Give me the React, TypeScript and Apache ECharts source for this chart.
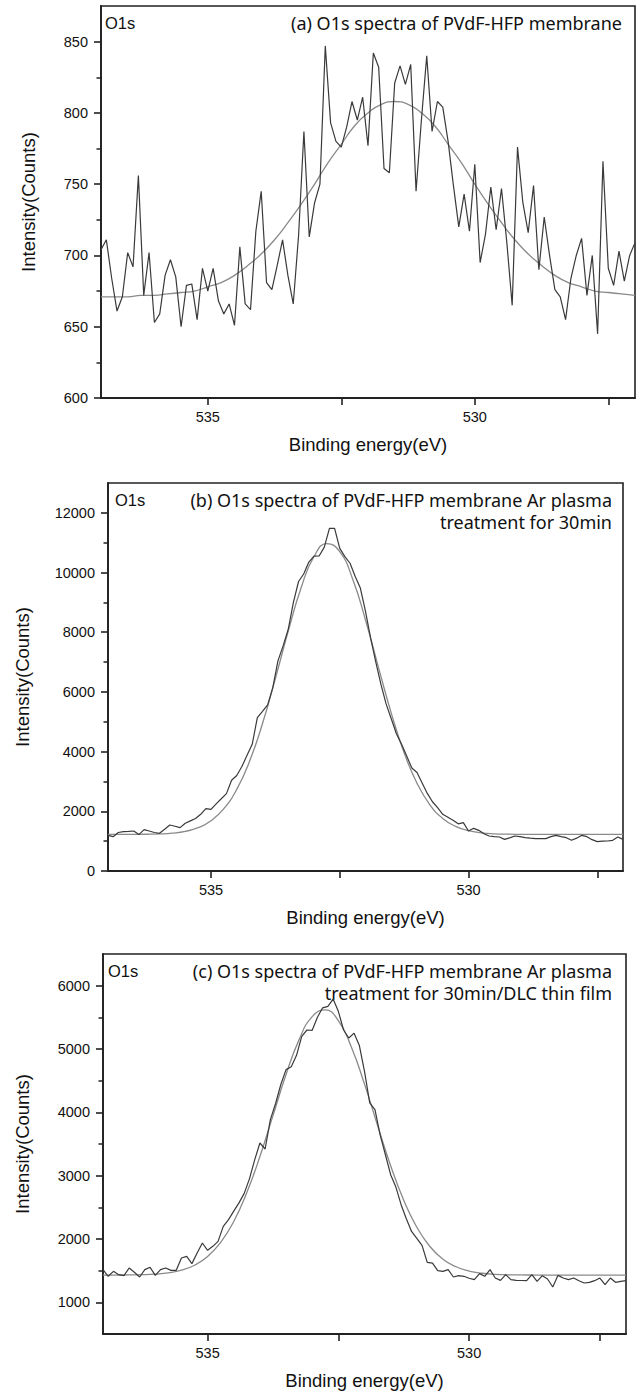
import React, { useEffect, useRef } from "react";
import * as echarts from "echarts";

// Binding energy grid of the measured spectra (eV)
const energy = [
  537.0, 536.9, 536.8, 536.7, 536.6, 536.5, 536.4, 536.3, 536.2, 536.1,
  536.0, 535.9, 535.8, 535.7, 535.6, 535.5, 535.4, 535.3, 535.2, 535.1,
  535.0, 534.9, 534.8, 534.7, 534.6, 534.5, 534.4, 534.3, 534.2, 534.1,
  534.0, 533.9, 533.8, 533.7, 533.6, 533.5, 533.4, 533.3, 533.2, 533.1,
  533.0, 532.9, 532.8, 532.7, 532.6, 532.5, 532.4, 532.3, 532.2, 532.1,
  532.0, 531.9, 531.8, 531.7, 531.6, 531.5, 531.4, 531.3, 531.2, 531.1,
  531.0, 530.9, 530.8, 530.7, 530.6, 530.5, 530.4, 530.3, 530.2, 530.1,
  530.0, 529.9, 529.8, 529.7, 529.6, 529.5, 529.4, 529.3, 529.2, 529.1,
  529.0, 528.9, 528.8, 528.7, 528.6, 528.5, 528.4, 528.3, 528.2, 528.1,
  528.0, 527.9, 527.8, 527.7, 527.6, 527.5, 527.4, 527.3, 527.2, 527.1,
  527.0,
];

// Energies at which the fitted curves were read (eV)
const fitEnergy = [
  537.0, 536.75, 536.5, 536.25, 536.0, 535.75, 535.5, 535.25, 535.0, 534.75,
  534.5, 534.25, 534.0, 533.75, 533.5, 533.25, 533.0, 532.75, 532.5, 532.25,
  532.0, 531.75, 531.5, 531.25, 531.0, 530.75, 530.5, 530.25, 530.0, 529.75,
  529.5, 529.25, 529.0, 528.75, 528.5, 528.25, 528.0, 527.75, 527.5, 527.25,
  527.0,
];

// (a) PVdF-HFP membrane
const intensityA = [
  704, 711, 684, 661, 671, 702, 692, 756, 672, 702,
  653, 659, 686, 697, 685, 650, 679, 680, 655, 691,
  675, 691, 668, 659, 666, 651, 706, 666, 662, 717,
  745, 681, 676, 693, 711, 686, 666, 714, 787, 713,
  737, 750, 847, 793, 780, 776, 790, 808, 795, 811,
  777, 842, 832, 761, 758, 821, 833, 820, 834, 745,
  795, 840, 787, 808, 804, 780, 749, 720, 743, 717,
  764, 695, 715, 748, 718, 747, 709, 665, 776, 737,
  716, 749, 690, 727, 700, 676, 671, 655, 684, 700,
  712, 672, 700, 645, 766, 691, 679, 703, 682, 700,
  709,
];
const fitA = [
  671, 671, 671, 672, 672, 673, 674, 675, 678, 681,
  686, 693, 701, 711, 723, 736, 750, 765, 778, 791,
  800, 806, 808, 806, 800, 791, 778, 765, 750, 736,
  723, 711, 701, 693, 686, 681, 678, 675, 674, 673,
  672,
];

// (b) Ar plasma treatment 30 min
const intensityB = [
  1196, 1150, 1290, 1320, 1330, 1341, 1220, 1385, 1340, 1290,
  1262, 1400, 1540, 1500, 1453, 1600, 1680, 1760, 1900, 2089,
  2067, 2250, 2420, 2592, 3039, 3200, 3500, 3880, 4246, 5140,
  5350, 5564, 6145, 7039, 7542, 8100, 9000, 9700, 9950, 10350,
  10550, 10556, 10850, 11478, 11478, 10811, 10533, 10311, 9867, 9478,
  8700, 7800, 7000, 6250, 5598, 5100, 4600, 4250, 3850, 3450,
  3300, 2950, 2600, 2320, 2120, 1899, 1800, 1700, 1580, 1620,
  1341, 1430, 1363, 1250, 1173, 1150, 1140, 1061, 1110, 1173,
  1150, 1117, 1100, 1084, 1084, 1084, 1150, 1196, 1150, 1117,
  1028, 1100, 1196, 1150, 1050, 983, 1000, 1006, 1028, 1140,
  1061,
];
const fitB = [
  1225, 1226, 1227, 1231, 1242, 1269, 1328, 1450, 1682, 2089,
  2736, 3682, 4940, 6451, 8040, 9493, 10536, 10970, 10702, 9785,
  8411, 6832, 5291, 3962, 2941, 2219, 1761, 1494, 1351, 1280,
  1247, 1233, 1228, 1226, 1225, 1225, 1225, 1225, 1225, 1225,
  1225,
];

// (c) Ar plasma 30 min / DLC thin film
const intensityC = [
  1516, 1411, 1489, 1437, 1421, 1542, 1474, 1400, 1516, 1553,
  1426, 1516, 1542, 1505, 1505, 1700, 1726, 1611, 1779, 1937,
  1821, 1884, 1963, 2200, 2305, 2440, 2570, 2720, 2950, 3250,
  3516, 3421, 3884, 4140, 4440, 4674, 4720, 4900, 5200, 5300,
  5295, 5500, 5650, 5674, 5789, 5595, 5300, 5174, 5250, 5060,
  4647, 4150, 4042, 3640, 3330, 3016, 2820, 2542, 2320, 2120,
  2010, 1900, 1632, 1620, 1500, 1489, 1516, 1400, 1421, 1411,
  1380, 1358, 1453, 1411, 1516, 1384, 1347, 1437, 1358, 1347,
  1345, 1342, 1437, 1332, 1421, 1368, 1242, 1426, 1384, 1358,
  1384, 1340, 1305, 1316, 1342, 1384, 1279, 1384, 1316, 1330,
  1342,
];
const fitC = [
  1430, 1431, 1432, 1436, 1446, 1466, 1507, 1585, 1722, 1945,
  2276, 2733, 3303, 3948, 4597, 5148, 5512, 5618, 5448, 5029,
  4445, 3793, 3157, 2612, 2186, 1882, 1682, 1562, 1494, 1459,
  1442, 1435, 1432, 1431, 1430, 1430, 1430, 1430, 1430, 1430,
  1430,
];

// Tick values
const xTickLabels = [535, 530];
const xTickMarks = [535, 532.5, 530, 527.5];
const yTicksA = [600, 650, 700, 750, 800, 850];
const yMinorA = [625, 675, 725, 775, 825];
const yTicksB = [0, 2000, 4000, 6000, 8000, 10000, 12000];
const yMinorB = [1000, 3000, 5000, 7000, 9000, 11000];
const yTicksC = [1000, 2000, 3000, 4000, 5000, 6000];
const yMinorC = [1500, 2500, 3500, 4500, 5500];

// Texts
const xName = "Binding energy(eV)";
const yName = "Intensity(Counts)";
const peakLabel = "O1s";
const titleA = ["(a) O1s spectra of PVdF-HFP membrane"];
const titleB = ["(b) O1s spectra of PVdF-HFP membrane Ar plasma", "treatment for 30min"];
const titleC = ["(c) O1s spectra of PVdF-HFP membrane Ar plasma", "treatment for 30min/DLC thin film"];

const AXIS_FONT = "Liberation Sans";
const TITLE_FONT = "Noto Sans";
const AXIS_COLOR = "#222";
const TEXT_COLOR = "#111";

const panels = [
  {
    grid: { left: 101, top: 6, width: 534, height: 392 },
    yMin: 600, yMax: 875, yTicks: yTicksA, yMinor: yMinorA,
    data: intensityA, fit: fitA, yNameGap: 63,
    o1s: [105, 22.5], titleRight: 622, titleY: 23, title: titleA,
  },
  {
    grid: { left: 108, top: 483, width: 515, height: 388 },
    yMin: 0, yMax: 13000, yTicks: yTicksB, yMinor: yMinorB,
    data: intensityB, fit: fitB, yNameGap: 76,
    o1s: [115, 499.5], titleRight: 612, titleY: 499.5, title: titleB,
  },
  {
    grid: { left: 103, top: 954, width: 523, height: 380 },
    yMin: 500, yMax: 6500, yTicks: yTicksC, yMinor: yMinorC,
    data: intensityC, fit: fitC, yNameGap: 71,
    o1s: [108, 970.5], titleRight: 612, titleY: 971, title: titleC,
  },
];

const plain = (v: number) => String(v);

function buildOption() {
  const grid: any[] = [];
  const xAxis: any[] = [];
  const yAxis: any[] = [];
  const series: any[] = [];
  const graphic: any[] = [];

  panels.forEach((p, i) => {
    grid.push({
      ...p.grid,
      show: true,
      borderColor: AXIS_COLOR,
      borderWidth: 1.6,
      backgroundColor: "transparent",
      containLabel: false,
      outerBoundsMode: "none",
    });
    xAxis.push({
      type: "value",
      gridIndex: i,
      min: 527,
      max: 537,
      inverse: true,
      name: xName,
      nameLocation: "middle",
      nameGap: 37,
      nameTextStyle: { fontFamily: AXIS_FONT, fontSize: 18.5, color: TEXT_COLOR },
      axisLine: { show: true, onZero: false, lineStyle: { color: AXIS_COLOR, width: 1.8 } },
      axisTick: {
        show: true,
        customValues: xTickMarks,
        length: 7,
        lineStyle: { color: AXIS_COLOR, width: 1.6 },
      },
      axisLabel: {
        show: true,
        customValues: xTickLabels,
        formatter: plain,
        margin: 11,
        fontFamily: AXIS_FONT,
        fontSize: 14.5,
        color: TEXT_COLOR,
      },
      splitLine: { show: false },
    });
    yAxis.push({
      type: "value",
      gridIndex: i,
      position: "left",
      min: p.yMin,
      max: p.yMax,
      name: yName,
      nameLocation: "middle",
      nameGap: p.yNameGap,
      nameTextStyle: { fontFamily: AXIS_FONT, fontSize: 18.5, color: TEXT_COLOR },
      axisLine: { show: true, onZero: false, lineStyle: { color: AXIS_COLOR, width: 1.8 } },
      axisTick: {
        show: true,
        customValues: p.yTicks,
        length: 7,
        lineStyle: { color: AXIS_COLOR, width: 1.6 },
      },
      axisLabel: {
        show: true,
        customValues: p.yTicks,
        formatter: plain,
        margin: 13,
        fontFamily: AXIS_FONT,
        fontSize: 14.5,
        color: TEXT_COLOR,
      },
      splitLine: { show: false },
    });
    yAxis.push({
      type: "value",
      gridIndex: i,
      position: "left",
      min: p.yMin,
      max: p.yMax,
      axisLine: { show: false },
      axisTick: {
        show: true,
        customValues: p.yMinor,
        length: 4.5,
        lineStyle: { color: AXIS_COLOR, width: 1.5 },
      },
      axisLabel: { show: false },
      splitLine: { show: false },
    });

    series.push({
      type: "line",
      xAxisIndex: i,
      yAxisIndex: i * 2,
      data: fitEnergy.map((e, k) => [e, p.fit[k]]),
      smooth: true,
      showSymbol: false,
      symbol: "none",
      lineStyle: { color: "#8a8a8a", width: 1.3 },
      z: 2,
    });
    series.push({
      type: "line",
      xAxisIndex: i,
      yAxisIndex: i * 2,
      data: energy.map((e, k) => [e, p.data[k]]),
      showSymbol: false,
      symbol: "none",
      lineStyle: { color: "#3a3a3a", width: 1.2 },
      z: 3,
    });

    graphic.push({
      type: "text",
      x: p.o1s[0],
      y: p.o1s[1],
      style: {
        text: peakLabel,
        fontFamily: AXIS_FONT,
        fontSize: 16.5,
        fill: TEXT_COLOR,
        align: "left",
        verticalAlign: "middle",
      },
    });
    p.title.forEach((line, li) => {
      graphic.push({
        type: "text",
        x: p.titleRight,
        y: p.titleY + li * 22,
        style: {
          text: line,
          fontFamily: TITLE_FONT,
          fontSize: 18,
          fill: TEXT_COLOR,
          align: "right",
          verticalAlign: "middle",
        },
      });
    });
  });

  return {
    animation: false,
    backgroundColor: "#ffffff",
    textStyle: { fontFamily: AXIS_FONT },
    grid,
    xAxis,
    yAxis,
    series,
    graphic,
  };
}

export default function App() {
  const ref = useRef<HTMLDivElement>(null);
  useEffect(() => {
    if (!ref.current) return;
    const chart = echarts.init(ref.current, null, { renderer: "svg" });
    chart.setOption(buildOption() as any);
    return () => chart.dispose();
  }, []);
  return (
    <div
      ref={ref}
      style={{ position: "absolute", left: 0, top: 0, width: 637, height: 1392, background: "#fff" }}
    />
  );
}
